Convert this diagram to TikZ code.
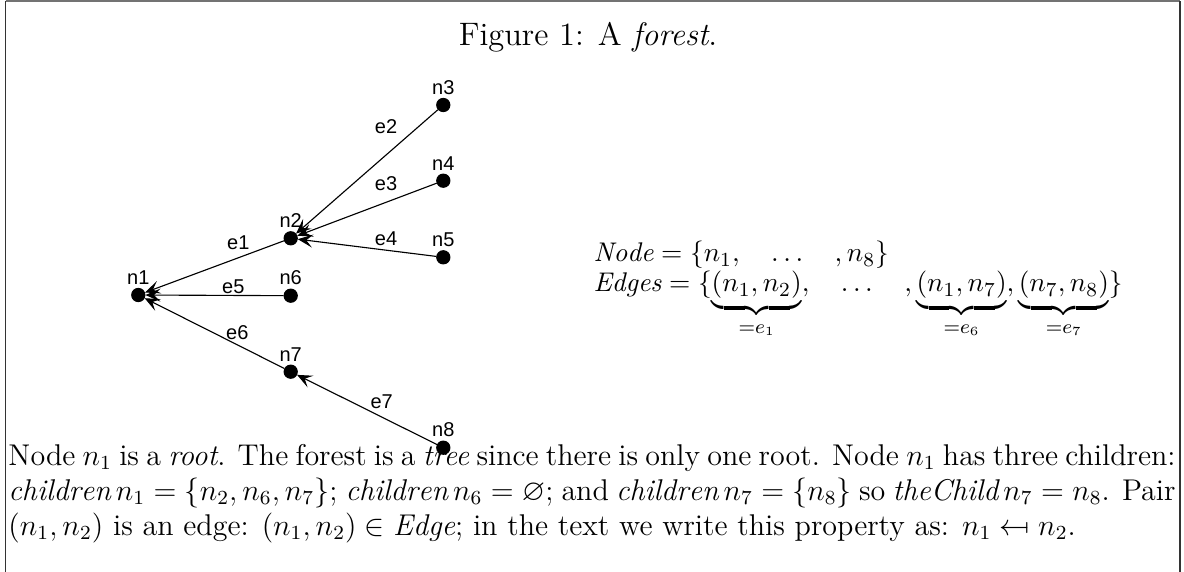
\documentclass[tikz,border=0pt]{standalone}
\usepackage{amsmath,amssymb}
\usepackage{fontspec}
\newfontfamily\graphfont{Liberation Sans}
\usetikzlibrary{arrows.meta}
\begin{document}
\begin{tikzpicture}[x=0.4pt,y=-0.4pt,
  dot/.style={circle,fill=black,draw=black,inner sep=0pt,minimum size=5.3pt},
  nlab/.style={font=\graphfont\fontsize{8}{9}\selectfont,inner sep=0pt,label distance=1.2pt},
  elab/.style={font=\graphfont\fontsize{8}{9}\selectfont,inner sep=0pt},
  arr/.style={line width=0.45pt,-{Stealth[length=6pt,width=5.2pt,inset=2.6pt]}},
  txt/.style={inner sep=0pt,font=\fontsize{10.8}{13}\selectfont},
  framel/.style={line width=0.6pt}]
\useasboundingbox (0,0) rectangle (1184,572);
% frame
\coordinate (fbl) at (5.5,572);
\coordinate (ftl) at (5.5,1.2);
\coordinate (ftr) at (1180,1.2);
\coordinate (fbr) at (1180,572);
\draw[framel,black!80] (fbl) -- (ftl);
\draw[framel,black!55] (ftl) -- (ftr);
\draw[framel,black!80] (ftr) -- (fbr);
% caption
\node[anchor=base,inner sep=0pt,font=\fontsize{13}{15}\selectfont] (cap) at (588,46) {Figure 1: A \textit{forest}.};
% graph nodes
\node[dot,label={[nlab]above:n1}] (n1) at (138.3,295) {};
\node[dot,label={[nlab]above:n2}] (n2) at (290.7,238.3) {};
\node[dot,label={[nlab]above:n3}] (n3) at (443.3,105) {};
\node[dot,label={[nlab]above:n4}] (n4) at (443.3,180.7) {};
\node[dot,label={[nlab]above:n5}] (n5) at (443.3,257.3) {};
\node[dot,label={[nlab]above:n6}] (n6) at (290.7,295.7) {};
\node[dot,label={[nlab]above:n7}] (n7) at (290.7,371.7) {};
\node[dot,label={[nlab]above:n8}] (n8) at (443.3,447.7) {};
% edges
\draw[arr] (n2) -- (n1);
\draw[arr] (n3) -- (n2);
\draw[arr] (n4) -- (n2);
\draw[arr] (n5) -- (n2);
\draw[arr] (n6) -- (n1);
\draw[arr] (n7) -- (n1);
\draw[arr] (n8) -- (n7);
% edge labels
\node[elab] (le1) at (238.3,243) {e1};
\node[elab] (le2) at (386,126.7) {e2};
\node[elab] (le3) at (386,183.3) {e3};
\node[elab] (le4) at (386,239) {e4};
\node[elab] (le5) at (233.3,286.5) {e5};
\node[elab] (le6) at (237.3,332.7) {e6};
\node[elab] (le7) at (381.7,401.7) {e7};
% sets
\node[txt,anchor=base west] (nodeset) at (593,262)
  {$\mathit{Node} = \{n_1,\quad\ldots\quad,n_8\}$};
\node[txt,anchor=base west] (edgeset) at (593,292)
  {$\mathit{Edges} = \{\underbrace{(n_1,n_2)}_{=e_1},\quad\ldots\quad,\underbrace{(n_1,n_7)}_{=e_6},\underbrace{(n_7,n_8)}_{=e_7}\}$};
% paragraph
\node[anchor=base west,inner sep=0pt,text width=466.8pt,align=justify,font=\fontsize{12}{14}\selectfont] (para) at (8,465)
  {Node $n_1$ is a \textit{root}. The forest is a \textit{tree} since there is only one root. Node $n_1$ has three children:\linebreak
  $\mathit{children}\,n_1 = \{n_2, n_6, n_7\}$; $\mathit{children}\,n_6 = \varnothing$; and $\mathit{children}\,n_7 = \{n_8\}$ so $\mathit{theChild}\,n_7 = n_8$. Pair\linebreak
  $(n_1, n_2)$ is an edge: $(n_1, n_2) \in \mathit{Edge}$; in the text we write this property as: $n_1 \mathrel{\reflectbox{$\mapsto$}} n_2$.};
\end{tikzpicture}
\end{document}
